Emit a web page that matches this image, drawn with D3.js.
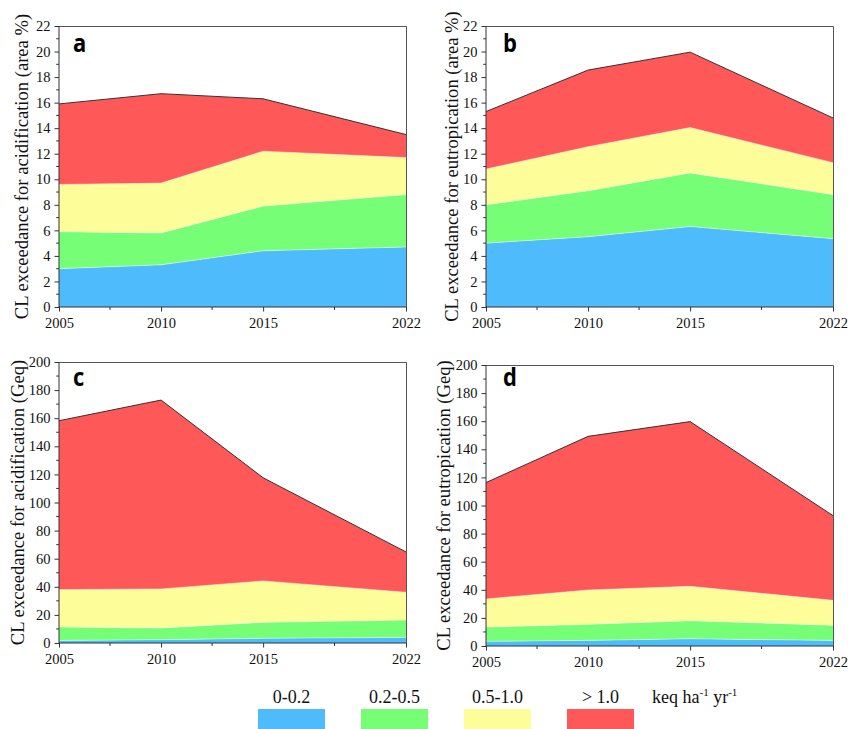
<!DOCTYPE html>
<html>
<head>
<meta charset="utf-8">
<script src="https://cdn.jsdelivr.net/npm/d3@7/dist/d3.min.js"></script>
<style>
  html, body { margin: 0; padding: 0; background: #fff; }
  svg { display: block; }
  .serif { font-family: "Liberation Serif", "Times New Roman", serif; }
</style>
</head>
<body>
<svg id="chart" width="865" height="729"></svg>
<script>
// ---------------- DATA ----------------
const years = [2005, 2010, 2015, 2022];
const xTickLabels = ["2005", "2010", "2015", "2022"];
const classes = ["0-0.2", "0.2-0.5", "0.5-1.0", "> 1.0"];
const classColors = ["#4EBBFD", "#77FE77", "#FDFD99", "#FE5858"];

// layer values (per exceedance class) for each panel
// a: acidification, area %
const aBlue   = [3.0, 3.3, 4.4, 4.7];
const aGreen  = [2.9, 2.5, 3.5, 4.1];
const aYellow = [3.7, 3.9, 4.3, 2.9];
const aRed    = [6.3, 7.0, 4.1, 1.8];
// b: eutrophication, area %
const bBlue   = [5.0, 5.5, 6.3, 5.35];
const bGreen  = [3.0, 3.6, 4.2, 3.45];
const bYellow = [2.8, 3.45, 3.55, 2.5];
const bRed    = [4.5, 6.0, 5.9, 3.5];
// c: acidification, Geq
const cBlue   = [1.8, 2.4, 3.3, 4.0];
const cGreen  = [9.6, 8.3, 11.4, 12.4];
const cYellow = [26.6, 27.8, 29.5, 19.7];
const cRed    = [120.2, 134.4, 73.4, 28.7];
// d: eutrophication, Geq
const dBlue   = [3.3, 4.0, 5.1, 4.0];
const dGreen  = [10.2, 11.4, 12.9, 10.8];
const dYellow = [20.0, 24.5, 24.5, 17.7];
const dRed    = [82.8, 109.3, 117.2, 60.3];

const yTicksArea = [0, 2, 4, 6, 8, 10, 12, 14, 16, 18, 20, 22];
const yTicksGeq  = [0, 20, 40, 60, 80, 100, 120, 140, 160, 180, 200];

const panels = [
  { letter: "a", label: "CL exceedance for acidification (area %)", layers: [aBlue, aGreen, aYellow, aRed],
    ymax: 22, ticks: yTicksArea, minorStep: 1, box: [59, 406, 26, 307], labelX: 28, letterPos: [73, 52] },
  { letter: "b", label: "CL exceedance for eutropication (area %)", layers: [bBlue, bGreen, bYellow, bRed],
    ymax: 22, ticks: yTicksArea, minorStep: 1, box: [486, 833, 26, 307], labelX: 458, letterPos: [503, 52] },
  { letter: "c", label: "CL exceedance for acidification (Geq)", layers: [cBlue, cGreen, cYellow, cRed],
    ymax: 200, ticks: yTicksGeq, minorStep: 10, box: [59, 406, 362, 643], labelX: 23.5, letterPos: [73, 386] },
  { letter: "d", label: "CL exceedance for eutropication (Geq)", layers: [dBlue, dGreen, dYellow, dRed],
    ymax: 200, ticks: yTicksGeq, minorStep: 10, box: [486, 833, 365, 646], labelX: 450, letterPos: [503, 386] }
];

// ---------------- DRAW ----------------
const svg = d3.select("#chart");
const serif = '"Liberation Serif", "Times New Roman", serif';
const axisColor = "#333";

panels.forEach(p => {
  const [x0, x1, y0, y1] = p.box;
  const x = d3.scaleLinear().domain([2005, 2022]).range([x0, x1]);
  const y = d3.scaleLinear().domain([0, p.ymax]).range([y1, y0]);

  const rows = years.map((yr, i) => {
    const r = { year: yr };
    classes.forEach((c, k) => r[c] = p.layers[k][i]);
    return r;
  });
  const stacked = d3.stack().keys(classes)(rows);

  const area = d3.area()
    .x(d => x(d.data.year))
    .y0(d => y(d[0]))
    .y1(d => y(d[1]));
  const topLine = d3.line()
    .x(d => x(d.data.year))
    .y(d => y(d[1]));

  const g = svg.append("g");
  g.selectAll("path.layer").data(stacked).join("path")
    .attr("class", "layer")
    .attr("d", area)
    .attr("fill", (d, i) => classColors[i]);

  // light seams between layers
  g.selectAll("path.seam").data(stacked.slice(0, 3)).join("path")
    .attr("class", "seam")
    .attr("d", topLine)
    .attr("fill", "none")
    .attr("stroke", "#ffffff")
    .attr("stroke-opacity", 0.55)
    .attr("stroke-width", 0.8);

  // dark outline on top of red layer
  g.append("path")
    .datum(stacked[3])
    .attr("d", topLine)
    .attr("fill", "none")
    .attr("stroke", "#333")
    .attr("stroke-width", 1);

  // frame (top and right)
  g.append("path")
    .attr("d", `M${x0},${y0 + 0.5}H${x1 + 0.5}V${y1}`)
    .attr("fill", "none")
    .attr("stroke", "#555")
    .attr("stroke-width", 1);

  // y axis
  const yAxis = d3.axisLeft(y).tickValues(p.ticks).tickSize(4.5).tickPadding(4).tickFormat(d3.format("d"));
  const ya = g.append("g").attr("transform", `translate(${x0},0)`).call(yAxis);
  const minorY = d3.range(p.minorStep, p.ymax, p.minorStep * 2);
  ya.selectAll("line.minor").data(minorY).join("line")
    .attr("class", "minor")
    .attr("x1", -2.8).attr("x2", 0)
    .attr("y1", d => y(d)).attr("y2", d => y(d));

  // x axis
  const xAxis = d3.axisBottom(x).tickValues(years).tickSize(4.5).tickPadding(6)
    .tickFormat((d, i) => xTickLabels[i]);
  const xa = g.append("g").attr("transform", `translate(0,${y1})`).call(xAxis);
  const minorX = d3.range(0, years.length - 1).map(i => (years[i] + years[i + 1]) / 2);
  xa.selectAll("line.minor").data(minorX).join("line")
    .attr("class", "minor")
    .attr("x1", d => x(d)).attr("x2", d => x(d))
    .attr("y1", 0).attr("y2", 3);

  [ya, xa].forEach(a => {
    a.attr("font-family", null).attr("font-size", null);
    a.select(".domain").attr("stroke", axisColor).attr("stroke-width", 1);
    a.selectAll("line").attr("stroke", axisColor).attr("stroke-width", 1);
    a.selectAll("text").attr("class", "serif")
      .style("font-family", serif).style("font-size", "14.5px").attr("fill", "#111");
  });
  ya.select(".domain").attr("d", `M0,${y1}V${y0}`);
  xa.select(".domain").attr("d", `M${x0},0H${x1}`);

  // y label
  g.append("text")
    .attr("transform", `translate(${p.labelX},${(y0 + y1) / 2}) rotate(-90)`)
    .attr("text-anchor", "middle")
    .style("font-family", serif)
    .style("font-size", "18.6px")
    .attr("fill", "#111")
    .text(p.label);

  // panel letter
  g.append("text")
    .attr("transform", `translate(${p.letterPos[0]},${p.letterPos[1]}) scale(1,1.15)`)
    .style("font-family", '"Open Sans", "DejaVu Sans", sans-serif')
    .style("font-weight", 700)
    .style("font-size", "22px")
    .attr("fill", "#000")
    .text(p.letter);
});

// ---------------- LEGEND ----------------
const legendCenters = d3.scalePoint().domain(classes).range([291.5, 600.5]);
const lg = svg.append("g");
lg.selectAll("rect").data(classes).join("rect")
  .attr("x", d => legendCenters(d) - 33.5)
  .attr("y", 709)
  .attr("width", 67)
  .attr("height", 20)
  .attr("fill", (d, i) => classColors[i]);
lg.selectAll("text.lab").data(classes).join("text")
  .attr("class", "lab")
  .attr("x", d => legendCenters(d))
  .attr("y", 703)
  .attr("text-anchor", "middle")
  .style("font-family", serif)
  .style("font-size", "18px")
  .attr("fill", "#111")
  .text(d => d);
const unit = lg.append("text")
  .attr("x", 652).attr("y", 703)
  .style("font-family", serif)
  .style("font-size", "18px")
  .attr("fill", "#111");
unit.append("tspan").text("keq ha");
unit.append("tspan").style("font-size", "11px").attr("dy", -7).text("-1");
unit.append("tspan").attr("dy", 7).text(" yr");
unit.append("tspan").style("font-size", "11px").attr("dy", -7).text("-1");
</script>
</body>
</html>
